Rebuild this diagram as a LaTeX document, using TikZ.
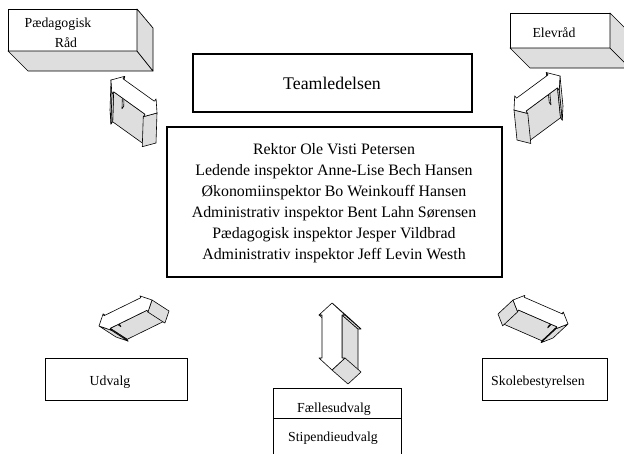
\documentclass[tikz,border=0pt]{standalone}
\usepackage{fontspec}
\setmainfont{Liberation Serif}
\usetikzlibrary{calc}
\tikzset{
  sidef/.style={fill=black!13, draw=black, line width=0.6pt, line join=round},
  frontf/.style={fill=white, draw=black, line width=0.6pt, line join=round},
  facef/.style={fill=black!13, draw=black, line width=0.7pt, line join=round},
  thinbox/.style={draw=black, line width=0.8pt, fill=white, inner sep=0pt, outer sep=0pt},
  thickbox/.style={draw=black, line width=2.2pt, inner sep=0pt, outer sep=0pt},
  lbl/.style={font=\fontsize{13.8}{16}\selectfont, anchor=base, inner sep=0pt},
  mainlbl/.style={font=\fontsize{15.9}{19}\selectfont, anchor=base, inner sep=0pt},
  teamlbl/.style={font=\fontsize{17.8}{21}\selectfont, anchor=base, inner sep=0pt},
}
\newcommand{\sidequad}[4]{%
  \pgfmathparse{((#3)-(#1))*(\dDy)-((#4)-(#2))*(\dDx)}%
  \ifdim\pgfmathresult pt>0.01pt\relax
    \filldraw[sidef] (#1,#2) -- (#3,#4) -- ({#3+\dDx},{#4+\dDy}) -- ({#1+\dDx},{#2+\dDy}) -- cycle;
  \fi}
% #1,#2 tip one; #3,#4 tip two; #5 head half width; #6 shaft half width; #7 head length; #8,#9 depth vector
\newcommand{\darrow}[9]{%
  \pgfmathsetmacro\dAx{(#3)-(#1)}\pgfmathsetmacro\dAy{(#4)-(#2)}%
  \pgfmathsetmacro\dL{veclen(\dAx,\dAy)}%
  \pgfmathsetmacro\ux{\dAx/\dL}\pgfmathsetmacro\uy{\dAy/\dL}%
  \pgfmathsetmacro\vx{-1*(\uy)}\pgfmathsetmacro\vy{\ux}%
  \def\dDx{#8}\def\dDy{#9}%
  \pgfmathsetmacro\xA{#1}\pgfmathsetmacro\yA{#2}%
  \pgfmathsetmacro\xB{#1+#7*(\ux)+#5*(\vx)}\pgfmathsetmacro\yB{#2+#7*(\uy)+#5*(\vy)}%
  \pgfmathsetmacro\xC{#1+#7*(\ux)+#6*(\vx)}\pgfmathsetmacro\yC{#2+#7*(\uy)+#6*(\vy)}%
  \pgfmathsetmacro\xD{#3-#7*(\ux)+#6*(\vx)}\pgfmathsetmacro\yD{#4-#7*(\uy)+#6*(\vy)}%
  \pgfmathsetmacro\xE{#3-#7*(\ux)+#5*(\vx)}\pgfmathsetmacro\yE{#4-#7*(\uy)+#5*(\vy)}%
  \pgfmathsetmacro\xF{#3}\pgfmathsetmacro\yF{#4}%
  \pgfmathsetmacro\xG{#3-#7*(\ux)-#5*(\vx)}\pgfmathsetmacro\yG{#4-#7*(\uy)-#5*(\vy)}%
  \pgfmathsetmacro\xH{#3-#7*(\ux)-#6*(\vx)}\pgfmathsetmacro\yH{#4-#7*(\uy)-#6*(\vy)}%
  \pgfmathsetmacro\xI{#1+#7*(\ux)-#6*(\vx)}\pgfmathsetmacro\yI{#2+#7*(\uy)-#6*(\vy)}%
  \pgfmathsetmacro\xJ{#1+#7*(\ux)-#5*(\vx)}\pgfmathsetmacro\yJ{#2+#7*(\uy)-#5*(\vy)}%
  \sidequad\xC\yC\xD\yD \sidequad\xH\yH\xI\yI
  \sidequad\xB\yB\xC\yC \sidequad\xD\yD\xE\yE \sidequad\xG\yG\xH\yH \sidequad\xI\yI\xJ\yJ
  \sidequad\xA\yA\xB\yB \sidequad\xE\yE\xF\yF \sidequad\xF\yF\xG\yG \sidequad\xJ\yJ\xA\yA
  \filldraw[frontf] (\xA,\yA)--(\xB,\yB)--(\xC,\yC)--(\xD,\yD)--(\xE,\yE)--(\xF,\yF)--(\xG,\yG)--(\xH,\yH)--(\xI,\yI)--(\xJ,\yJ)--cycle;
}
\begin{document}
\begin{tikzpicture}[x=1pt,y=-1pt]
\useasboundingbox (0,0) rectangle (624,453);
\clip (0,0) rectangle (624,453);
\fill[white] (0,0) rectangle (624,453);

% Paedagogisk Raad (3D box)
\node[thinbox, minimum width=129pt, minimum height=42pt] (pr) at (72.5,30) {};
\filldraw[facef] (pr.south west) -- (pr.south east) -- ($(pr.south east)+(16,20)$) -- ($(pr.south west)+(20,20)$) -- cycle;
\filldraw[facef] (pr.north east) -- ($(pr.north east)+(16,19)$) -- ($(pr.south east)+(16,20)$) -- (pr.south east) -- cycle;
\node[lbl] (prA) at (58,27) {Pædagogisk};
\node[lbl] (prB) at (66,47) {Råd};

% Elevraad (3D box)
\node[thinbox, minimum width=100pt, minimum height=35pt] (er) at (560,30.5) {};
\filldraw[facef] (er.south west) -- (er.south east) -- ($(er.south east)+(20,20)$) -- ($(er.south west)+(20,20)$) -- cycle;
\filldraw[facef] (er.north east) -- ($(er.north east)+(20,20)$) -- ($(er.south east)+(20,20)$) -- (er.south east) -- cycle;
\node[lbl] (erT) at (554,37) {Elevråd};

% Teamledelsen
\node[thickbox, minimum width=279pt, minimum height=58pt] (tl) at (332.5,83) {};
\node[teamlbl] (tlT) at (332,89.5) {Teamledelsen};

% main box
\node[thickbox, minimum width=335pt, minimum height=150pt] (mb) at (334.5,202) {};
\node[mainlbl] (m1) at (334,154) {Rektor Ole Visti Petersen};
\node[mainlbl] (m2) at (334,175) {Ledende inspektor Anne-Lise Bech Hansen};
\node[mainlbl] (m3) at (334,196) {Økonomiinspektor Bo Weinkouff Hansen};
\node[mainlbl] (m4) at (334,217) {Administrativ inspektor Bent Lahn Sørensen};
\node[mainlbl] (m5) at (334,238) {Pædagogisk inspektor Jesper Vildbrad};
\node[mainlbl] (m6) at (334,259) {Administrativ inspektor Jeff Levin Westh};

% Udvalg
\node[thinbox, minimum width=142pt, minimum height=42pt] (ud) at (116,379) {};
\node[lbl] (udT) at (110,385) {Udvalg};

% Skolebestyrelsen
\node[thinbox, minimum width=125pt, minimum height=42pt] (sk) at (544.5,379) {};
\node[lbl] (skT) at (538,385) {Skolebestyrelsen};

% Faellesudvalg / Stipendieudvalg
\coordinate (fTL) at (273,388);
\coordinate (fTR) at (401,388);
\coordinate (fML) at (273,418);
\coordinate (fMR) at (401,418);
\coordinate (fBL) at (273,460);
\coordinate (fBR) at (401,460);
\draw[line width=0.8pt] (fBL) -- (fTL) -- (fTR) -- (fBR);
\draw[line width=0.8pt] (fML) -- (fMR);
\node[lbl] (fu) at (334,412) {Fællesudvalg};
\node[lbl] (su) at (333,441) {Stipendieudvalg};

% 3D double arrows
\darrow{111}{80}{157}{113}{11}{8}{9}{-1}{30}
\darrow{514}{110}{560}{76}{11}{8}{9}{3}{30}
\darrow{99}{326}{152}{300}{9}{7}{9}{17}{11}
\darrow{513}{300}{568}{324}{9}{7}{9}{-15}{14}
\darrow{332}{303}{332}{370}{13}{10}{12}{16}{14}
\end{tikzpicture}
\end{document}
